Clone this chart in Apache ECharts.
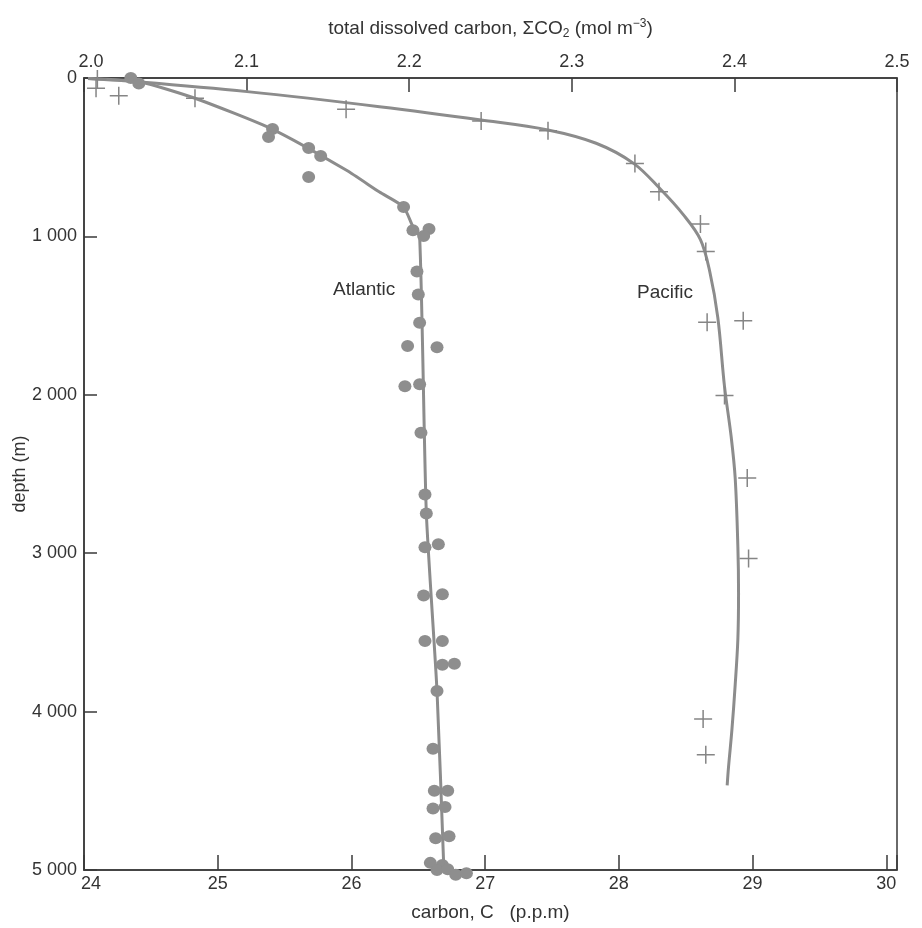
<!DOCTYPE html>
<html>
<head>
<meta charset="utf-8">
<script src="https://cdn.jsdelivr.net/npm/echarts@6/dist/echarts.min.js"></script>
<style>
html,body{margin:0;padding:0;background:#fff;}
#chart{width:922px;height:928px;}
</style>
</head>
<body>
<div id="chart"></div>
<script>
// ---- data (carbon C in p.p.m, depth in m) ----
const atlanticC     = [24.35,24.41,25.41,25.38,25.68,25.77,25.68,26.39,26.46,26.58,26.54,26.49,26.50,26.51,26.42,26.64,26.40,26.51,26.52,26.55,26.56,26.55,26.65,26.54,26.68,26.55,26.68,26.68,26.77,26.64,26.61,26.62,26.72,26.61,26.70,26.63,26.73,26.59,26.68,26.64,26.72,26.78,26.86];
const atlanticDepth = [0,35,322,372,442,492,625,814,961,953,997,1221,1367,1545,1692,1700,1946,1934,2239,2630,2749,2963,2943,3267,3259,3554,3554,3704,3698,3870,4234,4499,4499,4612,4603,4800,4787,4955,4968,5000,4995,5030,5020];

const pacificC      = [24.10,24.09,24.26,24.83,25.96,26.97,27.47,28.12,28.30,28.61,28.65,28.66,28.93,28.79,28.96,28.97,28.63,28.65];
const pacificDepth  = [6,65,112,128,198,271,333,539,718,922,1096,1542,1533,2005,2526,3033,4047,4273];

const atlanticCurveC     = [24.03,24.42,24.83,25.41,25.96,26.21,26.39,26.46,26.51,26.56,26.64,26.69];
const atlanticCurveDepth = [3,25,128,324,581,720,814,939,1002,2743,3870,4968];

const pacificCurveC      = [24.03,24.42,25.22,26.21,26.97,27.47,27.83,28.11,28.31,28.48,28.61,28.68,28.74,28.79,28.84,28.87,28.89,28.895,28.89,28.87,28.845,28.82,28.81];
const pacificCurveDepth  = [3,25,86,181,265,328,412,539,701,861,1020,1223,1513,1947,2266,2527,2961,3250,3540,3830,4119,4351,4466];

const depthTicks = [0,1000,2000,3000,4000,5000];
const carbonTicks = [24,25,26,27,28,29,30];
const sigmaTicks = [2.0,2.1,2.2,2.3,2.4,2.5];

const zip = (a,b) => a.map((v,i)=>[v,b[i]]);

const FONT = 'Liberation Sans';
const AX = '#3a3a3a';
const GREY = '#8c8c8c';
const TXT = '#333';

const chart = echarts.init(document.getElementById('chart'));
chart.setOption({
  backgroundColor:'#fff',
  animation:false,
  grid:{left:84,top:78,right:25,bottom:58,containLabel:false,outerBoundsMode:'none',
        show:true,borderColor:AX,borderWidth:1.5,backgroundColor:'transparent'},
  xAxis:[{
    type:'value', position:'bottom', min:24, max:30.08, interval:1,
    axisLine:{show:true,onZero:false,lineStyle:{color:AX,width:1.5}},
    axisTick:{show:true,inside:true,length:15,lineStyle:{color:AX,width:1.5}},
    axisLabel:{color:TXT,fontFamily:FONT,fontSize:18,margin:5,
      formatter:v=> {
        const r = Math.round(v*1000)/1000;
        if (!carbonTicks.includes(r)) return '';
        return r === 24 ? '{first|24}' : String(r);
      },
      rich:{first:{fontFamily:FONT,fontSize:18,color:TXT,padding:[0,0,0,14]}}},
    splitLine:{show:false},
    name:'carbon, C   (p.p.m)', nameLocation:'middle', nameGap:33,
    nameTextStyle:{color:TXT,fontFamily:FONT,fontSize:19}
  },{
    type:'value', position:'top', min:2.0, max:2.5, interval:0.1,
    axisLine:{show:true,onZero:false,lineStyle:{color:AX,width:1.5}},
    axisTick:{show:true,inside:true,length:14,lineStyle:{color:AX,width:1.5}},
    axisLabel:{color:TXT,fontFamily:FONT,fontSize:18,margin:7,
      formatter:v=> {
        if (!sigmaTicks.some(t=>Math.abs(t-v)<1e-6)) return '';
        return Math.abs(v-2.0)<1e-6 ? '{first|2.0}' : v.toFixed(1);
      },
      rich:{first:{fontFamily:FONT,fontSize:18,color:TXT,padding:[0,0,0,14]}}},
    splitLine:{show:false},
    name:'total dissolved carbon, ΣCO{sub|2} (mol m{sup|−3})', nameLocation:'middle', nameGap:38,
    nameTextStyle:{color:TXT,fontFamily:FONT,fontSize:19,
      rich:{sub:{fontFamily:FONT,fontSize:12,padding:[11,0,0,0],color:TXT},
            sup:{fontFamily:FONT,fontSize:12,padding:[0,0,9,0],color:TXT}}}
  }],
  yAxis:[{
    type:'value', inverse:true, min:0, max:5000, interval:1000,
    axisLine:{show:true,onZero:false,lineStyle:{color:AX,width:1.5}},
    axisTick:{show:true,inside:true,length:13,lineStyle:{color:AX,width:1.5}},
    axisLabel:{color:TXT,fontFamily:FONT,fontSize:18,margin:7,
      formatter:v=> depthTicks.includes(v) ? (v>=1000 ? Math.floor(v/1000)+' '+String(v%1000).padStart(3,'0') : String(v)) : ''},
    splitLine:{show:false},
    name:'depth (m)', nameLocation:'middle', nameGap:55, nameRotate:90, nameMoveOverlap:false,
    nameTextStyle:{color:TXT,fontFamily:FONT,fontSize:18}
  }],
  series:[
    {type:'line', name:'Pacific curve', data:zip(pacificCurveC,pacificCurveDepth), smooth:0.35,
      showSymbol:false, lineStyle:{color:GREY,width:3}, z:2},
    {type:'line', name:'Atlantic curve', data:zip(atlanticCurveC,atlanticCurveDepth), smooth:0.2,
      showSymbol:false, lineStyle:{color:GREY,width:3}, z:2},
    {type:'scatter', name:'Atlantic', data:zip(atlanticC,atlanticDepth), symbol:'circle', symbolSize:[13,12],
      itemStyle:{color:'#8e8e8e',opacity:1}, clip:false, z:3},
    {type:'scatter', name:'Pacific', data:zip(pacificC,pacificDepth),
      symbol:'path://M10,0 L10,20 M0,10 L20,10', symbolSize:[18,18], symbolKeepAspect:true,
      itemStyle:{color:'transparent',borderColor:'#858585',borderWidth:1.5,opacity:1}, clip:false, z:3}
  ],
  graphic:[
    {type:'text', left:333, top:280, style:{text:'Atlantic', fill:TXT, font:'19px "Liberation Sans"'}},
    {type:'text', left:637, top:283, style:{text:'Pacific', fill:TXT, font:'19px "Liberation Sans"'}}
  ]
});
</script>
</body>
</html>
